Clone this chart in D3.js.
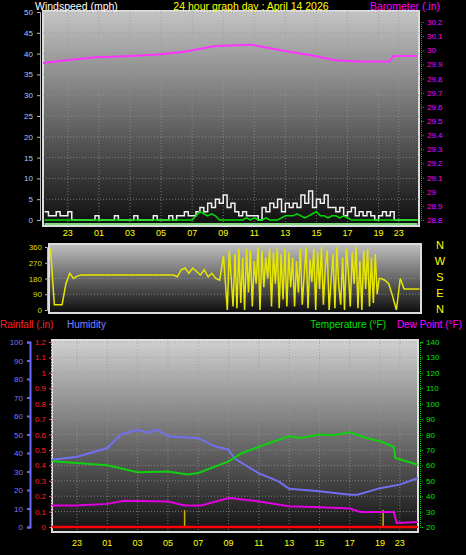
<!DOCTYPE html>
<html><head><meta charset="utf-8">
<script src="https://cdn.jsdelivr.net/npm/d3@7"></script>
<style>body{margin:0;background:#000}svg{display:block;font-family:"Liberation Sans",Arial,sans-serif}</style>
</head><body><svg id="c" width="466" height="555"></svg>
<script>
// hour labels (hours counted from midnight of previous day)
const tickHours = [23, 25, 27, 29, 31, 33, 35, 37, 39, 41, 43, 44.3];
const tickLabels = ["23", "01", "03", "05", "07", "09", "11", "13", "15", "17", "19", "23"];

// barometer (in)
const baroHours = [21.4, 22.9, 24.8, 27.1, 28.8, 30.5, 32.5, 34.8, 36.7, 38.9, 40.2, 41.7, 42.8, 43.7, 43.95, 45.5];
const baro = [29.91, 29.93, 29.95, 29.96, 29.97, 29.99, 30.03, 30.04, 30.0, 29.96, 29.93, 29.92, 29.92, 29.92, 29.96, 29.96];

// wind speed (mph), quarter-hour samples from 21.5
const gust = [2, 1, 1, 2, 1, 1, 2, 0, 0, 0, 0, 0, 0, 1, 0, 0, 0, 0, 1, 0, 0, 0, 0, 1, 0, 0, 0, 0, 1, 0, 0, 0,
  1, 0, 1, 1, 2, 1, 1, 2, 3, 2, 4, 3, 5, 4, 6, 3, 4, 2, 1, 2, 1, 1, 1, 0, 3, 2, 4, 3, 5, 2, 4, 3,
  4, 3, 6, 4, 7, 3, 5, 4, 6, 3, 3, 2, 3, 1, 2, 3, 1, 2, 1, 2, 1, 0, 1, 2, 1, 2, 0, 0, 0, 0, 0, 0, 0];
const windAvg = [0, 0, 0, 0, 0, 0, 0, 0, 0, 0, 0, 0, 0, 0, 0, 0, 0, 0, 0, 0, 0, 0, 0, 0, 0, 0, 0, 0, 0, 0, 0, 0,
  0, 0, 0, 0, 0, 0, 0, 1, 2, 1.5, 1, 1.5, 1, 0, 0, 0, 0, 0, 0, 0, 0.5, 0, 0.5, 0, 0, 0.5, 0, 0, 0, 0.5, 1, 1,
  1, 1.5, 1, 0.5, 1, 1.5, 2, 1, 1, 0.5, 1, 1, 0.5, 1, 0.5, 0, 0, 0, 0, 0, 0, 0, 0, 0, 0, 0, 0, 0, 0, 0, 0, 0, 0];
const calmLine = [0, 0];

// wind direction (deg): quarter-hour from 21.5, eighth-hour from 33, quarter-hour from 43
const windDirA = [350, 30, 30, 30, 150, 210, 180, 195,
  200, 200, 200, 200, 200, 200, 200, 200, 200, 200, 200, 200, 200, 200, 200, 200, 200, 200, 200, 200, 200, 200, 200, 200, 200,
  190, 230, 240, 210, 240, 220, 200, 230, 190, 210, 180, 170, 310];
const windDirB = [0, 340, 190, 20, 320, 10, 350, 40, 300, 0, 350, 100, 340, 20, 280, 150, 360, 0, 340, 130,
  300, 180, 350, 20, 330, 150, 360, 10, 320, 60, 350, 20, 330, 130, 300, 20, 280, 100, 350, 30,
  200, 360, 10, 290, 160, 350, 0, 330, 120, 360, 30, 250, 340, 0, 170, 320, 10, 360, 140, 30,
  300, 0, 350, 220, 20, 330, 150, 360, 10, 280, 0, 340, 120, 350, 20, 300, 40, 320, 90, 180];
const windDirC = [180, 170, 150, 80, 0, 180, 120, 120, 120, 120, 120];

// temperature / humidity / dew point
const thHours = [21.35, 23, 25, 27, 29, 30.3, 31, 33, 33.9, 35, 35.7, 37, 37.7, 39, 39.9, 41, 42.1, 43, 43.9, 44.0, 45.5];
const temp = [62.6, 61.5, 60, 55.5, 56, 54, 55, 62.6, 68, 72, 74.5, 78.8, 77.7, 80, 79.5, 81.5, 77.7, 75.6, 72, 64.8, 60.4];
const humHours = [21.35, 23, 25, 25.9, 27, 27.7, 28.3, 29, 31, 32.1, 33, 33.4, 35, 36.3, 37, 39, 41, 41.5, 43, 44.3, 45.5];
const humidity = [36.4, 38, 42.7, 50, 52.6, 51, 52.6, 49, 48, 43.6, 41.8, 37, 29, 24.7, 20.7, 19.3, 17.5, 17.5, 21, 22.9, 26.5];
const dewHours = [21.35, 23, 25, 26.1, 29, 30.1, 31.2, 33, 35, 37, 39, 41, 41.7, 43, 43.9, 44.1, 45.5];
const dew = [34, 34, 35, 37, 36.6, 34, 34, 38.8, 36.6, 33.4, 32.8, 32, 29.7, 29.7, 29.7, 22.6, 23.2];
const rainMarks = [30.1, 43.2];

const svg = d3.select("#c");
const defs = svg.append("defs");
function grad(id, top, bot) {
  const g = defs.append("linearGradient").attr("id", id).attr("x1", 0).attr("x2", 0).attr("y1", 0).attr("y2", 1);
  g.append("stop").attr("offset", "0%").attr("stop-color", top);
  g.append("stop").attr("offset", "100%").attr("stop-color", bot);
}
grad("g1", "#c4c4c4", "#0e0e0e");
grad("g2", "#c0c0c0", "#0c0c0c");
grad("g3", "#d0d0d0", "#111");

function panel(x0, x1, y0, y1, gid) {
  svg.append("rect").attr("x", x0).attr("y", y0).attr("width", x1 - x0).attr("height", y1 - y0)
    .attr("fill", "url(#" + gid + ")").attr("stroke", "#ddd").attr("stroke-width", 2);
}
function vgrid(x, y0, y1) {
  svg.append("g").selectAll("line").data(tickHours).join("line")
    .attr("x1", d => x(d)).attr("x2", d => x(d)).attr("y1", y0).attr("y2", y1)
    .attr("stroke", "#999").attr("stroke-dasharray", "1,2").attr("opacity", 0.7);
}
function hgrid(y, vals, x0, x1) {
  svg.append("g").selectAll("line").data(vals).join("line")
    .attr("x1", x0).attr("x2", x1).attr("y1", d => y(d)).attr("y2", d => y(d))
    .attr("stroke", "#999").attr("stroke-dasharray", "1,2").attr("opacity", 0.7);
}
function hourLabels(x, yPos) {
  svg.append("g").selectAll("text").data(tickHours).join("text")
    .attr("x", d => x(d)).attr("y", yPos).attr("text-anchor", "middle")
    .attr("fill", "#ffff00").attr("font-size", 9).text((d, i) => tickLabels[i]);
}
function txt(x, y, s, fill, anchor, size) {
  svg.append("text").attr("x", x).attr("y", y).attr("fill", fill)
    .attr("text-anchor", anchor || "start").attr("font-size", size || 11).text(s);
}

// ---- top panel: wind speed + barometer
const xT = d3.scaleLinear().domain([21.4, 45.6]).range([43, 419]);
const yW = d3.scaleLinear().domain([0, 50]).range([220, 12]);
const yB = d3.scaleLinear().domain([28.8, 30.2]).range([220, 22]);
panel(43, 419, 11, 226, "g1");
hgrid(yW, d3.range(5, 51, 5), 43, 419);
vgrid(xT, 11, 226);
txt(35, 10, "Windspeed (mph)", "#fff", "start", 10.5);
txt(251, 10, "24 hour graph day : April 14 2026", "#ffff00", "middle", 10.5);
txt(440, 10, "Barometer (.in)", "#ff00ff", "end", 10.5);
svg.append("g").attr("transform", "translate(40,0)")
  .call(d3.axisLeft(yW).tickValues(d3.range(0, 51, 5)).tickSize(3).tickPadding(4))
  .call(g => g.selectAll("text").attr("fill", "#a8c8ff").attr("font-size", 8))
  .call(g => g.selectAll("line,path").attr("stroke", "#bbb"));
svg.append("g").attr("transform", "translate(421,0)")
  .call(d3.axisRight(yB).tickValues(d3.range(28.8, 30.21, 0.1)).tickFormat(d3.format(".1~f")).tickSize(3).tickPadding(3))
  .call(g => g.selectAll("text").attr("fill", "#ff00ff").attr("font-size", 8))
  .call(g => g.selectAll("line,path").attr("stroke", "#ff00ff").attr("stroke-dasharray", "1,1"));
hourLabels(xT, 236);

const wHours = d3.range(gust.length).map(i => 21.5 + i * 0.25);
svg.append("path").datum(gust)
  .attr("d", d3.line().x((d, i) => xT(wHours[i])).y(d => yW(d)).curve(d3.curveStepAfter))
  .attr("fill", "none").attr("stroke", "#f0f0f0").attr("stroke-width", 1.5);
svg.append("path").datum(calmLine)
  .attr("d", d3.line().x((d, i) => xT(i ? 45.5 : 21.5)).y(d => yW(d) + 4))
  .attr("stroke", "#7fdc7f").attr("stroke-width", 2);
svg.append("path").datum(windAvg)
  .attr("d", d3.line().x((d, i) => xT(wHours[i])).y(d => yW(d)))
  .attr("fill", "none").attr("stroke", "#00dd00").attr("stroke-width", 1.5);
svg.append("path").datum(baro)
  .attr("d", d3.line().x((d, i) => xT(baroHours[i])).y(d => yB(d)))
  .attr("fill", "none").attr("stroke", "#ff33ff").attr("stroke-width", 2);

// ---- middle panel: wind direction
const xM = d3.scaleLinear().domain([21.4, 45.6]).range([49, 421]);
const yD = d3.scaleLinear().domain([0, 360]).range([310, 247]);
panel(49, 421, 244, 313, "g2");
hgrid(yD, [90, 180, 270], 49, 421);
svg.append("g").attr("transform", "translate(47,0)")
  .call(d3.axisLeft(yD).tickValues([0, 90, 180, 270, 360]).tickSize(2).tickPadding(3))
  .call(g => g.selectAll("text").attr("fill", "#dddd00").attr("font-size", 8))
  .call(g => g.selectAll("line,path").attr("stroke", "#bbb"));
const dirPts = [].concat(
  windDirA.map((d, i) => [21.5 + i * 0.25, d]),
  windDirB.map((d, i) => [33 + i * 0.125, d]),
  windDirC.map((d, i) => [43 + i * 0.25, d]));
svg.append("path").datum(dirPts)
  .attr("d", d3.line().x(d => xM(d[0])).y(d => yD(d[1])))
  .attr("fill", "none").attr("stroke", "#e6e600").attr("stroke-width", 1.5);
["N", "W", "S", "E", "N"].forEach((c, i) => txt(440, 249 + i * 16, c, "#ffff00", "middle", 11));

// ---- bottom panel: rain, humidity, temp, dew point
const xB = d3.scaleLinear().domain([21.35, 45.5]).range([52, 418]);
const yH = d3.scaleLinear().domain([0, 100]).range([527, 342]);
const yR = d3.scaleLinear().domain([0, 1.2]).range([527, 342]);
const yTp = d3.scaleLinear().domain([20, 140]).range([527, 342]);
panel(52, 418, 340, 532, "g3");
hgrid(yTp, d3.range(30, 141, 10), 52, 418);
vgrid(xB, 340, 532);
txt(0, 328, "Rainfall (.in)", "#ff2020", "start", 10);
txt(67, 328, "Humidity", "#8080ff", "start", 10);
txt(386, 328, "Temperature (°F)", "#00e000", "end", 10);
txt(462, 328, "Dew Point (°F)", "#ff00ff", "end", 10);
svg.append("g").attr("transform", "translate(30,0)")
  .call(d3.axisLeft(yH).tickValues(d3.range(0, 101, 10)).tickSize(3).tickPadding(4))
  .call(g => g.selectAll("text").attr("fill", "#7878ff").attr("font-size", 8))
  .call(g => g.selectAll("line,path").attr("stroke", "#6a6aff").attr("stroke-width", 2));
svg.append("g").attr("transform", "translate(51,0)")
  .call(d3.axisLeft(yR).tickValues(d3.range(0, 1.21, 0.1)).tickFormat(d3.format(".1~f")).tickSize(2).tickPadding(3))
  .call(g => g.selectAll("text").attr("fill", "#ff2020").attr("font-size", 8))
  .call(g => g.selectAll("line,path").attr("stroke", "#ff4040").attr("stroke-dasharray", "2,1"));
svg.append("g").attr("transform", "translate(420,0)")
  .call(d3.axisRight(yTp).tickValues(d3.range(20, 141, 10)).tickSize(3).tickPadding(3))
  .call(g => g.selectAll("text").attr("fill", "#00e000").attr("font-size", 8))
  .call(g => g.selectAll("line,path").attr("stroke", "#00cc00").attr("stroke-dasharray", "1,1"));
hourLabels(xB, 546);

svg.append("g").selectAll("line").data(rainMarks).join("line")
  .attr("x1", d => xB(d)).attr("x2", d => xB(d)).attr("y1", yR(0)).attr("y2", yR(0.11))
  .attr("stroke", "#c8b400").attr("stroke-width", 1.5);
svg.append("line").attr("x1", xB(21.35)).attr("x2", xB(45.5)).attr("y1", yR(0)).attr("y2", yR(0))
  .attr("stroke", "#ff0000").attr("stroke-width", 2.5);
const lineTH = (hrs, y) => d3.line().x((d, i) => xB(hrs[i])).y(d => y(d));
svg.append("path").datum(humidity).attr("d", lineTH(humHours, yH))
  .attr("fill", "none").attr("stroke", "#7070f0").attr("stroke-width", 2);
svg.append("path").datum(temp).attr("d", lineTH(thHours, yTp))
  .attr("fill", "none").attr("stroke", "#10d010").attr("stroke-width", 2);
svg.append("path").datum(dew).attr("d", lineTH(dewHours, yTp))
  .attr("fill", "none").attr("stroke", "#e000e0").attr("stroke-width", 2);
</script></body></html>
